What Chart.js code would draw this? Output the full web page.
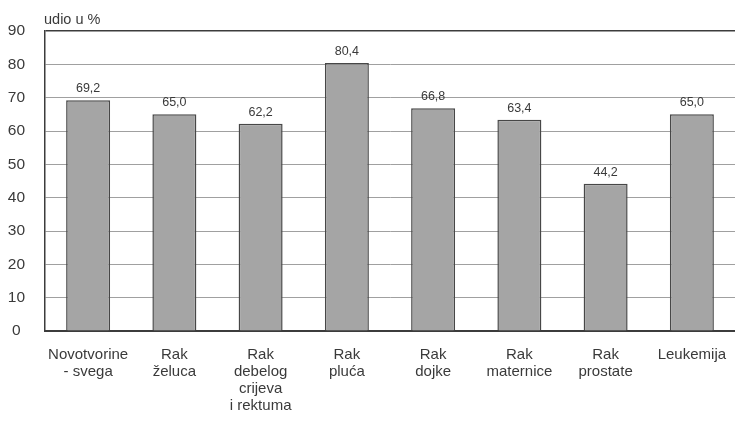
<!DOCTYPE html>
<html>
<head>
<meta charset="utf-8">
<script src="https://cdn.jsdelivr.net/npm/chart.js@4/dist/chart.umd.min.js"></script>
<style>
html,body{margin:0;padding:0;background:#fff;overflow:hidden;}
#wrap{width:735px;height:421px;position:relative;}
</style>
</head>
<body>
<div id="wrap"><canvas id="c" width="735" height="421"></canvas></div>
<script>
const categories = [
  ['Novotvorine', '- svega'],
  ['Rak', 'želuca'],
  ['Rak', 'debelog', 'crijeva', 'i rektuma'],
  ['Rak', 'pluća'],
  ['Rak', 'dojke'],
  ['Rak', 'maternice'],
  ['Rak', 'prostate'],
  ['Leukemija']
];
const values = [69.2, 65.0, 62.2, 80.4, 66.8, 63.4, 44.2, 65.0];
const yTicks = [0, 10, 20, 30, 40, 50, 60, 70, 80, 90];
const yTitle = 'udio u %';

const FONT = '"Liberation Sans", Arial, sans-serif';
const TEXT = '#3a3a3a';

const valueLabels = {
  id: 'valueLabels',
  afterDatasetsDraw(chart) {
    const ctx = chart.ctx;
    const meta = chart.getDatasetMeta(0);
    ctx.save();
    ctx.font = '12.5px ' + FONT;
    ctx.fillStyle = TEXT;
    ctx.textAlign = 'center';
    ctx.textBaseline = 'alphabetic';
    meta.data.forEach((bar, i) => {
      ctx.fillText(values[i].toFixed(1).replace('.', ','), bar.x, bar.y - 8);
    });
    ctx.restore();
  }
};

const axisTitle = {
  id: 'axisTitle',
  afterDraw(chart) {
    const ctx = chart.ctx;
    ctx.save();
    ctx.font = '14.5px ' + FONT;
    ctx.fillStyle = TEXT;
    ctx.textAlign = 'left';
    ctx.textBaseline = 'alphabetic';
    ctx.fillText(yTitle, chart.chartArea.left - 1, 24);
    ctx.restore();
  }
};

new Chart(document.getElementById('c'), {
  type: 'bar',
  data: {
    labels: categories,
    datasets: [{
      data: values,
      backgroundColor: '#a5a5a5',
      borderColor: '#474747',
      borderWidth: 1.5,
      barPercentage: 0.51,
      categoryPercentage: 1.0
    }]
  },
  options: {
    responsive: false,
    animation: false,
    devicePixelRatio: 1,
    layout: { padding: { top: 31, right: 0, left: 0, bottom: 0 } },
    plugins: { legend: { display: false }, tooltip: { enabled: false } },
    scales: {
      x: {
        grid: { display: false, drawTicks: false },
        border: { display: true, color: '#3c3c3c', width: 2 },
        ticks: {
          font: { family: FONT, size: 15, lineHeight: 1.14 },
          color: TEXT,
          padding: 15,
          maxRotation: 0,
          autoSkip: false
        },
        afterFit(scale) {
          scale.height = 421 - 31 - 300;
          scale.paddingLeft = 0;
          scale.paddingRight = 0;
        }
      },
      y: {
        min: 0,
        max: 90,
        afterBuildTicks(scale) { scale.ticks = yTicks.map(v => ({ value: v })); },
        grid: {
          drawTicks: false,
          color: ctx => (ctx.tick && ctx.tick.value === 90) ? '#3c3c3c' : '#a0a0a0',
          lineWidth: ctx => (ctx.tick && ctx.tick.value === 90) ? 1.5 : 1
        },
        border: { display: true, color: '#3c3c3c', width: 1.5 },
        ticks: {
          font: { family: FONT, size: 15.5 },
          color: TEXT,
          padding: 20,
          crossAlign: 'center'
        },
        afterFit(scale) {
          scale.width = 45;
          scale.paddingTop = 0;
          scale.paddingBottom = 0;
        }
      }
    }
  },
  plugins: [valueLabels, axisTitle]
});
</script>
</body>
</html>
